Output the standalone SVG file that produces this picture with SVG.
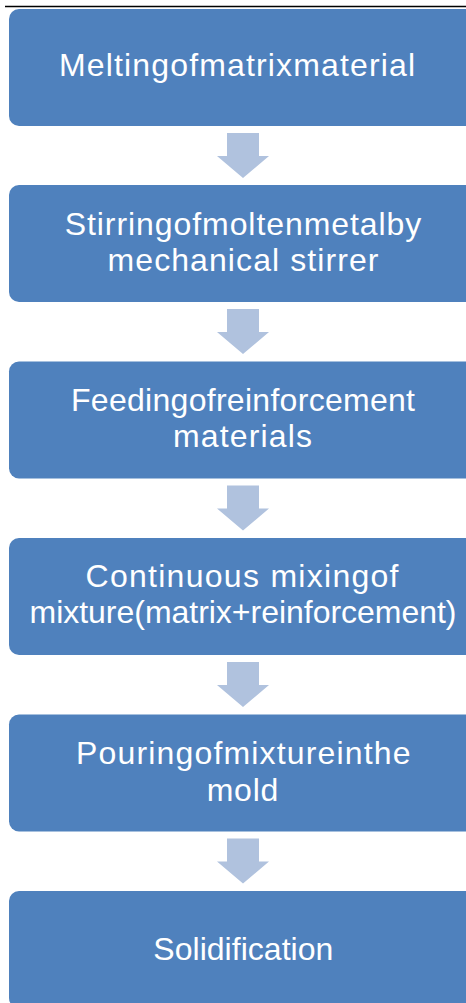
<svg xmlns="http://www.w3.org/2000/svg" width="466" height="1003" viewBox="0 0 466 1003">
<style>
.box{fill:#4F81BD;}
.arr{fill:#B0C2DE;}
.t{font-family:"Liberation Sans",Arial,sans-serif;font-size:32px;fill:#FFFFFF;text-anchor:middle;}
</style>
<defs>
<path id="arrow" d="M-16,0 H16 V23 H26 L0,45 L-26,23 H-16 Z"/>
</defs>
<rect x="0" y="0" width="466" height="1003" fill="#FFFFFF"/>
<line x1="5" y1="6.5" x2="466" y2="6.5" stroke="#000000" stroke-width="1.5"/>
<g id="connectors">
<use href="#arrow" class="arr" x="243" y="133"/>
<use href="#arrow" class="arr" x="243" y="309"/>
<use href="#arrow" class="arr" x="243" y="485.5"/>
<use href="#arrow" class="arr" x="243" y="662"/>
<use href="#arrow" class="arr" x="243" y="838.5"/>
</g>
<g id="n1">
<rect class="box" x="9" y="9" width="468" height="117" rx="10"/>
<text class="t" x="237" y="76" textLength="356" lengthAdjust="spacing">Meltingofmatrixmaterial</text>
</g>
<g id="n2">
<rect class="box" x="9" y="185" width="468" height="117" rx="10"/>
<text class="t" x="243" y="234.5" textLength="356.5" lengthAdjust="spacing">Stirringofmoltenmetalby</text>
<text class="t" x="243" y="271" textLength="271" lengthAdjust="spacing">mechanical stirrer</text>
</g>
<g id="n3">
<rect class="box" x="9" y="361.5" width="468" height="117" rx="10"/>
<text class="t" x="243" y="410.7" textLength="344" lengthAdjust="spacing">Feedingofreinforcement</text>
<text class="t" x="242.5" y="447" textLength="139" lengthAdjust="spacing">materials</text>
</g>
<g id="n4">
<rect class="box" x="9" y="538" width="468" height="117" rx="10"/>
<text class="t" x="242" y="587" textLength="313" lengthAdjust="spacing">Continuous mixingof</text>
<text class="t" x="243" y="622.5" textLength="427" lengthAdjust="spacing">mixture(matrix+reinforcement)</text>
</g>
<g id="n5">
<rect class="box" x="9" y="714.5" width="468" height="117" rx="10"/>
<text class="t" x="243.3" y="764" textLength="334.5" lengthAdjust="spacing">Pouringofmixtureinthe</text>
<text class="t" x="242.5" y="801" textLength="71.5" lengthAdjust="spacing">mold</text>
</g>
<g id="n6">
<rect class="box" x="9" y="891" width="468" height="117" rx="10"/>
<text class="t" x="243.3" y="960" textLength="180" lengthAdjust="spacing">Solidification</text>
</g>
</svg>
